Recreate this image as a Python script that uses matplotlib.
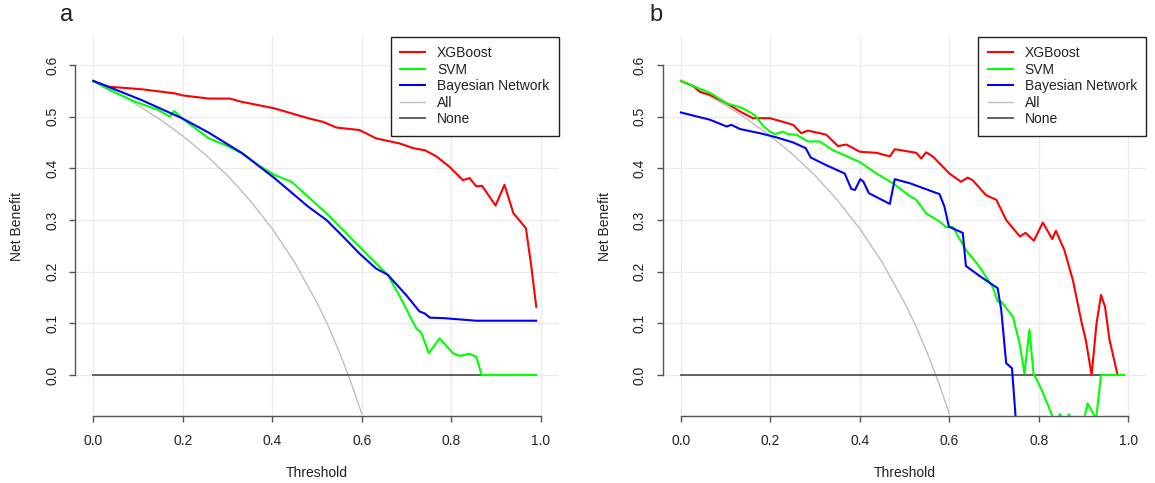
import matplotlib
matplotlib.use("Agg")
import matplotlib.pyplot as plt

plt.rcParams['font.family'] = ['Liberation Sans', 'DejaVu Sans']

# ---- panel a ----
red_a_x = [0, 0.033, 0.108, 0.182, 0.2, 0.258, 0.305, 0.33, 0.405, 0.48, 0.513, 0.543, 0.595,
           0.632, 0.685, 0.715, 0.741, 0.767, 0.796, 0.826, 0.841, 0.856, 0.869, 0.899, 0.919,
           0.939, 0.967, 0.979, 0.99]
red_a_y = [0.569, 0.558, 0.553, 0.545, 0.541, 0.535, 0.535, 0.529, 0.516, 0.497, 0.49, 0.479, 0.474,
           0.458, 0.448, 0.439, 0.435, 0.423, 0.403, 0.377, 0.381, 0.365, 0.366, 0.328, 0.368,
           0.313, 0.284, 0.21, 0.132]
green_a_x = [0, 0.033, 0.093, 0.145, 0.171, 0.181, 0.198, 0.258, 0.295, 0.333, 0.369, 0.405, 0.443,
             0.48, 0.521, 0.558, 0.595, 0.632, 0.658, 0.685, 0.722, 0.733, 0.75, 0.774, 0.804,
             0.819, 0.841, 0.856, 0.868, 0.99]
green_a_y = [0.569, 0.553, 0.529, 0.513, 0.5, 0.511, 0.497, 0.458, 0.445, 0.429, 0.406, 0.387, 0.374,
             0.345, 0.313, 0.281, 0.248, 0.216, 0.194, 0.152, 0.09, 0.082, 0.042, 0.071, 0.042,
             0.037, 0.041, 0.035, 0.0, 0.0]
blue_a_x = [0, 0.033, 0.108, 0.198, 0.258, 0.333, 0.405, 0.48, 0.521, 0.558, 0.595, 0.632, 0.658,
            0.699, 0.729, 0.741, 0.752, 0.782, 0.856, 0.99]
blue_a_y = [0.569, 0.558, 0.532, 0.497, 0.469, 0.429, 0.381, 0.326, 0.3, 0.268, 0.235, 0.206, 0.194,
            0.155, 0.123, 0.119, 0.111, 0.11, 0.105, 0.105]

# ---- panel b ----
red_b_x = [0, 0.028, 0.042, 0.065, 0.102, 0.132, 0.161, 0.199, 0.228, 0.251, 0.269, 0.284, 0.325,
           0.351, 0.37, 0.4, 0.437, 0.467, 0.478, 0.512, 0.526, 0.537, 0.548, 0.563, 0.6, 0.626,
           0.641, 0.652, 0.682, 0.705, 0.727, 0.745, 0.758, 0.77, 0.789, 0.809, 0.83, 0.838,
           0.857, 0.876, 0.896, 0.905, 0.918, 0.929, 0.939, 0.948, 0.958, 0.976]
red_b_y = [0.569, 0.559, 0.548, 0.542, 0.526, 0.51, 0.497, 0.497, 0.49, 0.484, 0.468, 0.473, 0.465,
           0.443, 0.446, 0.432, 0.43, 0.423, 0.437, 0.432, 0.43, 0.419, 0.431, 0.423, 0.39, 0.374,
           0.382, 0.377, 0.348, 0.339, 0.3, 0.281, 0.268, 0.275, 0.26, 0.295, 0.263, 0.279,
           0.242, 0.184, 0.1, 0.068, 0.0, 0.1, 0.155, 0.132, 0.068, 0.0]
green_b_x = [0, 0.065, 0.102, 0.139, 0.165, 0.184, 0.199, 0.21, 0.228, 0.24, 0.258, 0.284, 0.31,
             0.34, 0.377, 0.4, 0.437, 0.474, 0.512, 0.526, 0.548, 0.578, 0.593, 0.608, 0.637,
             0.667, 0.697, 0.708, 0.716, 0.742, 0.757, 0.768, 0.779, 0.788, 0.805, 0.83, 0.84,
             0.847, 0.86, 0.867, 0.885, 0.9, 0.909, 0.928, 0.939, 0.99]
green_b_y = [0.569, 0.546, 0.526, 0.516, 0.503, 0.482, 0.471, 0.466, 0.471, 0.466, 0.465, 0.452, 0.452,
             0.435, 0.421, 0.412, 0.39, 0.371, 0.346, 0.339, 0.313, 0.297, 0.286, 0.286, 0.242,
             0.21, 0.17, 0.142, 0.142, 0.113, 0.061, 0.003, 0.088, 0.003, -0.026, -0.079, -0.09,
             -0.076, -0.09, -0.076, -0.1, -0.09, -0.055, -0.085, 0.0, 0.0]
blue_b_x = [0, 0.028, 0.065, 0.102, 0.113, 0.132, 0.176, 0.213, 0.251, 0.279, 0.29, 0.325, 0.366,
            0.381, 0.389, 0.401, 0.408, 0.42, 0.467, 0.478, 0.512, 0.578, 0.589, 0.599, 0.63,
            0.637, 0.667, 0.708, 0.716, 0.727, 0.74, 0.748, 0.755]
blue_b_y = [0.508, 0.502, 0.494, 0.481, 0.484, 0.476, 0.468, 0.46, 0.45, 0.439, 0.421, 0.406, 0.39,
            0.36, 0.358, 0.379, 0.374, 0.352, 0.331, 0.379, 0.371, 0.35, 0.326, 0.287, 0.275,
            0.211, 0.192, 0.168, 0.126, 0.023, 0.013, -0.08, -0.12]

# treat-all curve (same in both panels) and treat-none
all_x = [0, 0.05, 0.1, 0.15, 0.2, 0.25, 0.3, 0.35, 0.4, 0.45, 0.5, 0.525, 0.55, 0.575, 0.6]
all_y = [0.57, 0.547, 0.522, 0.494, 0.4625, 0.427, 0.386, 0.338, 0.283, 0.218, 0.14, 0.095, 0.044, -0.012, -0.075]
none_x = [0, 0.99]
none_y = [0, 0]

labels = ["XGBoost", "SVM", "Bayesian Network", "All", "None"]
panels = [
    ("a", 75.4, 16.7, 66.7, (red_a_x, red_a_y), (green_a_x, green_a_y), (blue_a_x, blue_a_y)),
    ("b", 663.0, 605.0, 656.0, (red_b_x, red_b_y), (green_b_x, green_b_y), (blue_b_x, blue_b_y)),
]

W, H = 1155, 483
fig = plt.figure(figsize=(W / 100, H / 100), dpi=100)
txt = '#222222'
axcol = '#555555'

for tag, left, ylab_x, tag_x, red, green, blue in panels:
    ax = fig.add_axes([left / W, 1 - 416 / H, 483.2 / W, (416 - 36.7) / H])
    ax.set_xlim(-0.04, 1.04)
    ax.set_ylim(-0.0794, 0.6547)
    for v in [0, 0.2, 0.4, 0.6, 0.8, 1.0]:
        ax.axvline(v, color='#EBEBEB', lw=1, zorder=0)
    for v in [0, 0.1, 0.2, 0.3, 0.4, 0.5, 0.6]:
        ax.axhline(v, color='#EBEBEB', lw=1, zorder=0)

    ax.plot(*red, color='#FF0000', lw=1.5, label=labels[0], zorder=3)
    ax.plot(*green, color='#00FF00', lw=1.5, label=labels[1], zorder=3)
    ax.plot(*blue, color='#0000FF', lw=1.5, label=labels[2], zorder=3)
    ax.plot(all_x, all_y, color='#BEBEBE', lw=1, label=labels[3], zorder=2)
    ax.plot(none_x, none_y, color='#555555', lw=1.3, label=labels[4], zorder=2)

    for s in ['top', 'right']:
        ax.spines[s].set_visible(False)
    ax.spines['left'].set_bounds(0, 0.6)
    ax.spines['bottom'].set_bounds(0, 1)
    for s in ['left', 'bottom']:
        ax.spines[s].set_color(axcol)
        ax.spines[s].set_linewidth(1)
    ax.set_xticks([0, 0.2, 0.4, 0.6, 0.8, 1.0])
    ax.set_xticklabels(["0.0", "0.2", "0.4", "0.6", "0.8", "1.0"])
    ax.set_yticks([0, 0.1, 0.2, 0.3, 0.4, 0.5, 0.6])
    ax.set_yticklabels(["0.0", "0.1", "0.2", "0.3", "0.4", "0.5", "0.6"], rotation=90, va='center')
    ax.tick_params(direction='out', length=4.3, width=1, color=axcol, labelcolor=txt,
                   labelsize=10)
    ax.tick_params(axis='x', pad=8.5)
    ax.tick_params(axis='y', pad=7.5)

    leg = ax.legend(loc='upper right', borderaxespad=0, fancybox=False, fontsize=10,
                    handlelength=1.8, handletextpad=0.85, labelspacing=0.18,
                    borderpad=0.68, framealpha=1)
    leg.get_frame().set_edgecolor('#222222')
    leg.get_frame().set_linewidth(1)
    for t in leg.get_texts():
        t.set_color(txt)

    fig.text(ylab_x / W, 1 - 226.5 / H, "Net Benefit", rotation=90, ha='center', va='center',
             fontsize=10, color=txt)
    fig.text((left + 241.6) / W, 1 - 473 / H, "Threshold", ha='center', va='center',
             fontsize=10, color=txt)
    fig.text(tag_x / W, 1 - 15 / H, tag, ha='center', va='center', fontsize=17, color=txt)

fig.savefig("out.png", dpi=100)
